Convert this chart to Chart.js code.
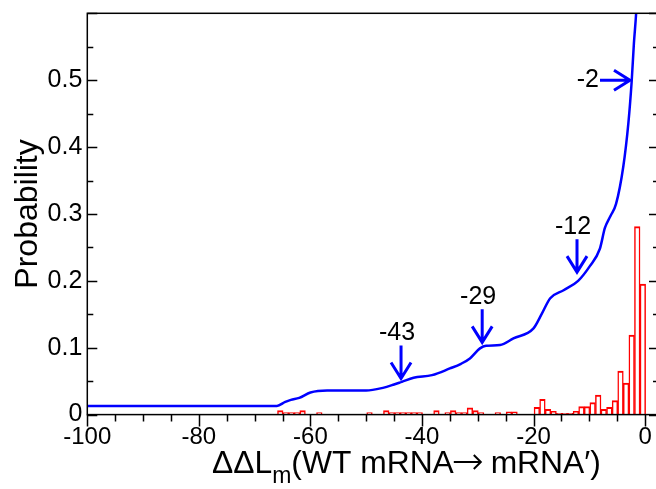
<!DOCTYPE html>
<html>
<head>
<meta charset="utf-8">
<title>Probability vs ddLm</title>
<script src="https://cdn.jsdelivr.net/npm/chart.js"></script>
<style>
  html, body { margin: 0; padding: 0; background: #fff; overflow: hidden; }
  #chart { display: block; }
</style>
</head>
<body>
<canvas id="chart" width="662" height="489"></canvas>
<script>
// red histogram: bin centres and probability per bin
const binCenters = [-65.4, -64.4, -63.4, -62.4, -61.4, -58.4, -49.4, -46.4, -45.4, -44.4,
    -43.4, -42.4, -41.4, -40.4, -37.4, -35.4, -34.4, -33.4, -32.4, -31.4,
    -30.4, -29.4, -26.4, -24.4, -23.4, -19.4, -18.4, -17.4, -16.4, -15.4,
    -14.4, -13.4, -12.4, -11.4, -10.4, -9.4, -8.4, -7.4, -6.4, -5.4,
    -4.4, -3.4, -2.4, -1.4, -0.4];
const binProb = [0.006, 0.003, 0.003, 0.003, 0.006, 0.003, 0.003, 0.006, 0.003, 0.003,
    0.003, 0.003, 0.003, 0.003, 0.006, 0.003, 0.006, 0.003, 0.003, 0.010,
    0.006, 0.003, 0.003, 0.004, 0.004, 0.011, 0.023, 0.008, 0.005, 0.002,
    0.002, 0.002, 0.005, 0.012, 0.012, 0.018, 0.029, 0.008, 0.011, 0.021,
    0.065, 0.047, 0.119, 0.281, 0.195];

// blue curve
const curveX = [-100, -66, -64.5, -63.5, -62, -60, -57, -50, -47, -45,
    -43.6, -41.5, -38.2, -35, -33, -31.4, -29.6, -28.5, -26, -23.6,
    -20, -18.5, -17, -14.6, -12, -9.9, -8.1, -7.2, -6.2, -5.2,
    -3.9, -3.0, -2.4, -2.0, -1.6, -1.0];
const curveY = [0.013, 0.013, 0.019, 0.022, 0.025, 0.033, 0.036, 0.036, 0.040, 0.045,
    0.049, 0.055, 0.059, 0.069, 0.076, 0.084, 0.099, 0.103, 0.104, 0.114,
    0.129, 0.151, 0.174, 0.186, 0.200, 0.222, 0.248, 0.279, 0.297, 0.315,
    0.371, 0.435, 0.498, 0.555, 0.600, 0.700];

const xTickValues = [-100, -80, -60, -40, -20, 0];
const yTickValues = [0, 0.1, 0.2, 0.3, 0.4, 0.5];

// arrows pointing at the curve
const arrowLabels = ['-43', '-29', '-12', '-2'];
const arrowX = [-43.75, -29.2, -12.2, -2.7];
const arrowY = [0.054, 0.108, 0.213, 0.5];
const arrowDir = ['down', 'down', 'down', 'right'];

const FONT = '"Liberation Sans", Arial, Helvetica, sans-serif';
Chart.defaults.font.family = FONT;
Chart.defaults.color = '#000';

const BLUE = 'rgb(0,0,255)';
const RED = 'rgb(255,0,0)';

const decorations = {
    id: 'decorations',
    afterDatasetsDraw(chart) {
        const ctx = chart.ctx;
        const a = chart.chartArea;
        const x = chart.scales.x, y = chart.scales.y;
        ctx.save();

        // frame
        ctx.strokeStyle = '#000';
        ctx.lineWidth = 1.5;
        ctx.strokeRect(a.left, a.top, a.right - a.left, a.bottom - a.top);

        // y ticks, inward on both sides
        ctx.beginPath();
        for (let i = 0; i <= 12; i++) {
            const py = Math.round(y.getPixelForValue(i * 0.05)) + 0.5;
            const len = i % 2 === 0 ? 10 : 6;
            ctx.moveTo(a.left, py); ctx.lineTo(a.left + len, py);
            ctx.moveTo(a.right, py); ctx.lineTo(a.right - len, py);
        }
        // x ticks, outward
        for (let v = -100; v <= 0; v += 5) {
            const px = Math.round(x.getPixelForValue(v)) + 0.5;
            const len = v % 20 === 0 ? 12 : 7;
            ctx.moveTo(px, a.bottom); ctx.lineTo(px, a.bottom + len);
        }
        ctx.stroke();

        // arrows + labels
        ctx.strokeStyle = BLUE;
        ctx.lineWidth = 3;
        ctx.fillStyle = '#000';
        ctx.font = '25px ' + FONT;
        ctx.textBaseline = 'middle';
        arrowLabels.forEach((lab, i) => {
            const tx = x.getPixelForValue(arrowX[i]);
            const ty = y.getPixelForValue(arrowY[i]);
            ctx.beginPath();
            if (arrowDir[i] === 'down') {
                ctx.moveTo(tx, ty - 33); ctx.lineTo(tx, ty);
                ctx.moveTo(tx - 10, ty - 16); ctx.lineTo(tx, ty); ctx.lineTo(tx + 10, ty - 16);
                ctx.stroke();
                ctx.textAlign = 'center';
                ctx.fillText(lab, tx - 4, ty - 45);
            } else {
                ctx.moveTo(tx - 30, ty); ctx.lineTo(tx, ty);
                ctx.moveTo(tx - 16, ty - 10); ctx.lineTo(tx, ty); ctx.lineTo(tx - 16, ty + 10);
                ctx.stroke();
                ctx.textAlign = 'right';
                ctx.fillText(lab, tx - 31, ty);
            }
        });

        // y title
        ctx.save();
        ctx.translate(28, (a.top + a.bottom) / 2);
        ctx.rotate(-Math.PI / 2);
        ctx.textAlign = 'center';
        ctx.textBaseline = 'middle';
        ctx.font = '32px ' + FONT;
        ctx.fillText('Probability', 0, 0);
        ctx.restore();

        // x title with subscript and drawn arrow
        ctx.textAlign = 'left';
        ctx.textBaseline = 'alphabetic';
        let cx = 212;
        const base = 473;
        const big = '31.8px ' + FONT;
        ctx.font = big;
        ctx.fillText('\u0394\u0394L', cx, base);
        cx += ctx.measureText('\u0394\u0394L').width;
        ctx.font = '23px ' + FONT;
        ctx.fillText('m', cx, base + 10);
        cx += ctx.measureText('m').width;
        ctx.font = big;
        ctx.fillText('(WT mRNA', cx, base);
        cx += ctx.measureText('(WT mRNA').width;
        ctx.strokeStyle = '#000';
        ctx.lineWidth = 2;
        const ay = base - 11;
        ctx.beginPath();
        ctx.moveTo(cx, ay); ctx.lineTo(cx + 27, ay);
        ctx.moveTo(cx + 20, ay - 7); ctx.lineTo(cx + 27, ay); ctx.lineTo(cx + 20, ay + 7);
        ctx.stroke();
        cx += 28;
        ctx.fillText(' mRNA\u2032)', cx, base);

        ctx.restore();
    }
};

new Chart(document.getElementById('chart'), {
    type: 'bar',
    data: {
        datasets: [
            {
                type: 'line',
                data: curveX.map((v, i) => ({ x: v, y: curveY[i] })),
                borderColor: BLUE,
                borderWidth: 2.5,
                pointRadius: 0,
                cubicInterpolationMode: 'monotone',
                fill: false,
                order: 0
            },
            {
                type: 'bar',
                data: binCenters.map((v, i) => ({ x: v, y: binProb[i] })),
                backgroundColor: '#fff',
                borderColor: RED,
                borderWidth: { top: 2, left: 1.5, right: 1.5, bottom: 0 },
                borderSkipped: false,
                barPercentage: 1,
                categoryPercentage: 1,
                order: 1
            }
        ]
    },
    options: {
        responsive: false,
        animation: false,
        devicePixelRatio: 1,
        layout: { padding: { top: 13.3, right: 3, left: 0, bottom: 0 } },
        plugins: { legend: { display: false }, tooltip: { enabled: false } },
        scales: {
            x: {
                type: 'linear',
                min: -100,
                max: 2.5,
                offset: false,
                grid: { display: false, drawTicks: false, tickLength: 0 },
                border: { display: false },
                afterBuildTicks: s => { s.ticks = xTickValues.map(v => ({ value: v })); },
                afterFit: s => { s.height = 74.4; s.paddingLeft = 0; s.paddingRight = 0; },
                ticks: { font: { size: 24 }, padding: 8, maxRotation: 0, autoSkip: false,
                         callback: v => String(v) }
            },
            y: {
                min: 0,
                max: 0.6,
                grid: { display: false, drawTicks: false, tickLength: 0 },
                border: { display: false },
                afterBuildTicks: s => { s.ticks = yTickValues.map(v => ({ value: v })); },
                afterFit: s => { s.width = 87.3; s.paddingTop = 0; s.paddingBottom = 0; },
                ticks: { font: { size: 25 }, padding: 5, autoSkip: false,
                         callback: v => String(+v.toFixed(1)) }
            }
        }
    },
    plugins: [decorations]
});
</script>
</body>
</html>
